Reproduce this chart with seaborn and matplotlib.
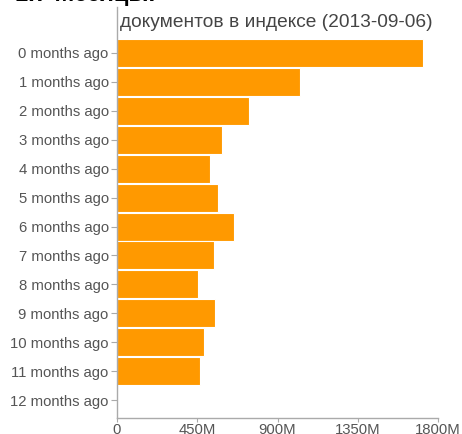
import matplotlib
matplotlib.use("Agg")
import matplotlib.pyplot as plt
import seaborn as sns
import pandas as pd
from matplotlib.ticker import FixedLocator, FuncFormatter

months = [f"{i} months ago" for i in range(13)]
docs_millions = [1716, 1026, 738, 591, 522, 566, 658, 546, 456, 550, 486, 467, 0]
x_ticks_millions = [0, 450, 900, 1350, 1800]
title = "документов в индексе (2013-09-06)"
heading = "1.7 Месяцы."

sns.set_theme(style="white")
plt.rcParams["font.family"] = ["Liberation Sans", "DejaVu Sans"]

df = pd.DataFrame({"month": months, "docs": [v * 1e6 for v in docs_millions]})

fig = plt.figure(figsize=(4.62, 4.34), dpi=100)
W, H = 462, 434
ax = fig.add_axes([117 / W, 1 - 418 / H, (438 - 117) / W, (418 - 7) / H])

sns.barplot(data=df, y="month", x="docs", orient="h", color="#FF9900",
            saturation=1, width=0.97, edgecolor="white", linewidth=0.8, ax=ax)

ax.set_xlim(0, 1800e6)
ax.set_ylim(12.62, -1.59)
ax.xaxis.set_major_locator(FixedLocator([v * 1e6 for v in x_ticks_millions]))
ax.xaxis.set_major_formatter(FuncFormatter(lambda v, p: "0" if v == 0 else f"{v/1e6:.0f}M"))
ax.set_xlabel("")
ax.set_ylabel("")

for s in ["top", "right"]:
    ax.spines[s].set_visible(False)
for s in ["left", "bottom"]:
    ax.spines[s].set_color("#aaaaaa")
    ax.spines[s].set_linewidth(1.0)

ax.tick_params(axis="y", length=4, width=0.8, color="#aaaaaa",
               labelcolor="#555555", labelsize=10.7, pad=2, left=True)
ax.tick_params(axis="x", length=3, width=0.8, color="#aaaaaa",
               labelcolor="#555555", labelsize=10.7, pad=0.5, bottom=True)

ax.text(0.01, -1.05, title, transform=ax.get_yaxis_transform(), fontsize=13.8,
        color="#444444", va="center", ha="left")

fig.text(15 / W, 1 - 1 / H, heading, fontsize=17, fontweight="bold", color="black",
         va="baseline", ha="left")

fig.savefig("out.png", dpi=100, facecolor="white")
